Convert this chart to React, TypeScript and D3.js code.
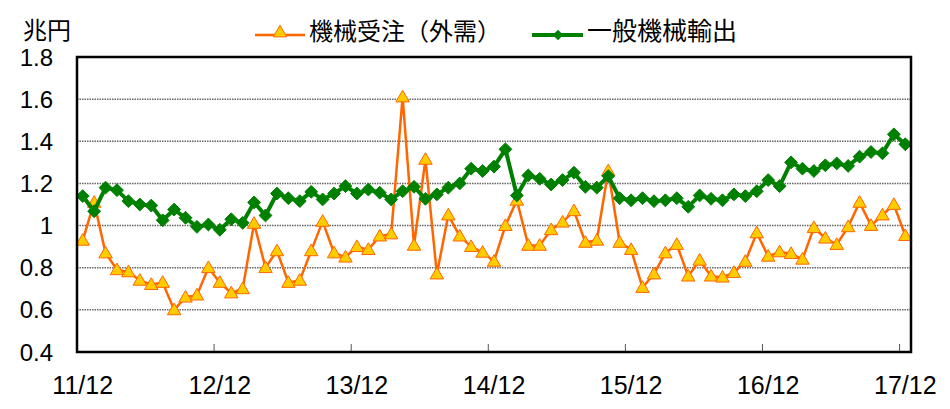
import React, { useRef, useEffect } from "react";
import * as d3 from "d3";

// 11/12 .. 17/12, monthly (73 points)
const xTickLabels = ["11/12", "12/12", "13/12", "14/12", "15/12", "16/12", "17/12"];
const yTickValues = [0.4, 0.6, 0.8, 1, 1.2, 1.4, 1.6, 1.8];

const ordersName = "機械受注（外需）";
const exportsName = "一般機械輸出";

const orders = [
  0.93, 1.11, 0.87, 0.79, 0.78, 0.74, 0.72, 0.73, 0.6, 0.66, 0.67, 0.8,
  0.73, 0.68, 0.7, 1.01, 0.8, 0.88, 0.73, 0.74, 0.88, 1.02, 0.87, 0.85,
  0.9, 0.886, 0.95, 0.96, 1.61, 0.906, 1.314, 0.77, 1.05, 0.95, 0.9, 0.873,
  0.83, 1.0, 1.12, 0.906, 0.906, 0.98, 1.016, 1.07, 0.92, 0.93, 1.26, 0.92,
  0.886, 0.706, 0.77, 0.87, 0.91, 0.76, 0.835, 0.76, 0.755, 0.777, 0.83, 0.965,
  0.854, 0.875, 0.867, 0.84, 0.99, 0.94, 0.91, 0.994, 1.11, 1.0, 1.05, 1.1,
  0.952,
];

const exportsData = [
  1.14, 1.068, 1.18, 1.168, 1.116, 1.1, 1.095, 1.025, 1.076, 1.037, 0.994, 1.005,
  0.98, 1.03, 1.013, 1.11, 1.048, 1.152, 1.13, 1.116, 1.16, 1.124, 1.152, 1.187,
  1.152, 1.171, 1.156, 1.124, 1.163, 1.184, 1.127, 1.148, 1.18, 1.2, 1.27, 1.259,
  1.28, 1.362, 1.143, 1.238, 1.222, 1.195, 1.216, 1.251, 1.184, 1.18, 1.235, 1.13,
  1.12, 1.13, 1.116, 1.12, 1.13, 1.089, 1.143, 1.127, 1.12, 1.148, 1.14, 1.163,
  1.216, 1.187, 1.3, 1.27, 1.259, 1.286, 1.295, 1.283, 1.327, 1.349, 1.343, 1.433,
  1.386,
];

const width = 950;
const height = 409;
const left = 77;
const right = 911;
const top = 57;
const bottom = 352;

const numFont = "'Liberation Sans', Arial, sans-serif";
const cjkFont = "'Noto Sans CJK JP', sans-serif";

const App = () => {
  const chartRef = useRef<SVGSVGElement | null>(null);

  useEffect(() => {
    const svg = d3.select(chartRef.current);
    svg.selectAll("*").remove();

    const n = orders.length;
    const xBand = d3
      .scaleBand<number>()
      .domain(d3.range(n))
      .range([left, right])
      .paddingInner(0)
      .paddingOuter(0);
    const xPos = (i: number) => (xBand(i) as number) + xBand.bandwidth() / 2;

    const yScale = d3.scaleLinear().domain([0.4, 1.8]).range([bottom, top]);

    // gridlines
    svg
      .append("g")
      .selectAll("line")
      .data(yTickValues.slice(1, -1))
      .enter()
      .append("line")
      .attr("x1", left)
      .attr("x2", right)
      .attr("y1", (d) => yScale(d))
      .attr("y2", (d) => yScale(d))
      .attr("stroke", "#666")
      .attr("stroke-width", 1.5)
      .attr("stroke-dasharray", "1.5 1");

    // y labels
    svg
      .append("g")
      .selectAll("text")
      .data(yTickValues)
      .enter()
      .append("text")
      .attr("x", 53)
      .attr("y", (d) => yScale(d) + 8.5)
      .attr("text-anchor", "end")
      .style("font-family", numFont)
      .style("font-size", "24px")
      .text((d) => String(d));

    // x ticks between categories, inside the plot
    const tickIdx = d3.range(1, xTickLabels.length).map((k) => k * 12);
    svg
      .append("g")
      .selectAll("line")
      .data(tickIdx)
      .enter()
      .append("line")
      .attr("x1", (d) => xBand(d) as number)
      .attr("x2", (d) => xBand(d) as number)
      .attr("y1", bottom)
      .attr("y2", bottom - 8)
      .attr("stroke", "#555")
      .attr("stroke-width", 1);

    // x labels
    svg
      .append("g")
      .selectAll("text")
      .data(xTickLabels)
      .enter()
      .append("text")
      .attr("x", (d, k) => xPos(k * 12))
      .attr("y", 394)
      .attr("text-anchor", "middle")
      .style("font-family", numFont)
      .style("font-size", "25px")
      .text((d) => d);

    const line = d3
      .line<number>()
      .x((d, i) => xPos(i))
      .y((d) => yScale(d));

    // orders series
    svg
      .append("path")
      .datum(orders)
      .attr("d", line)
      .attr("fill", "none")
      .attr("stroke", "#ff6600")
      .attr("stroke-width", 2.5)
      .attr("stroke-linejoin", "round");

    const tri = d3.symbol().type(d3.symbolTriangle).size(78);
    svg
      .append("g")
      .selectAll("path")
      .data(orders)
      .enter()
      .append("path")
      .attr("d", tri)
      .attr("transform", (d, i) => `translate(${xPos(i)},${yScale(d) + 1})`)
      .attr("fill", "#ffcc00")
      .attr("stroke", "#ff6600")
      .attr("stroke-width", 1);

    // exports series
    svg
      .append("path")
      .datum(exportsData)
      .attr("d", line)
      .attr("fill", "none")
      .attr("stroke", "#008000")
      .attr("stroke-width", 4)
      .attr("stroke-linejoin", "round");

    const dia = d3.symbol().type(d3.symbolDiamond2).size(105);
    svg
      .append("g")
      .selectAll("path")
      .data(exportsData)
      .enter()
      .append("path")
      .attr("d", dia)
      .attr("transform", (d, i) => `translate(${xPos(i)},${yScale(d)})`)
      .attr("fill", "#008000")
      .attr("stroke", "#008000")
      .attr("stroke-width", 1);

    // plot frame
    svg
      .append("rect")
      .attr("x", left)
      .attr("y", top)
      .attr("width", right - left)
      .attr("height", bottom - top)
      .attr("fill", "none")
      .attr("stroke", "#000")
      .attr("stroke-width", 2.5);

    // unit
    svg
      .append("text")
      .attr("x", 47)
      .attr("y", 28)
      .attr("text-anchor", "middle")
      .attr("dominant-baseline", "central")
      .style("font-family", cjkFont)
      .style("font-size", "24px")
      .text("兆円");

    // legend
    const lg = svg.append("g");
    lg.append("line")
      .attr("x1", 255)
      .attr("x2", 305)
      .attr("y1", 35)
      .attr("y2", 35)
      .attr("stroke", "#ff6600")
      .attr("stroke-width", 2.5);
    lg.append("path")
      .attr("d", tri)
      .attr("transform", "translate(280,33)")
      .attr("fill", "#ffcc00")
      .attr("stroke", "#ff6600")
      .attr("stroke-width", 1);
    lg.append("text")
      .attr("x", 309)
      .attr("y", 29)
      .attr("dominant-baseline", "central")
      .style("font-family", cjkFont)
      .style("font-size", "24px")
      .text(ordersName);

    lg.append("line")
      .attr("x1", 532)
      .attr("x2", 583)
      .attr("y1", 35)
      .attr("y2", 35)
      .attr("stroke", "#008000")
      .attr("stroke-width", 4);
    lg.append("path")
      .attr("d", d3.symbol().type(d3.symbolDiamond2).size(70))
      .attr("transform", "translate(558,35)")
      .attr("fill", "#008000");
    lg.append("text")
      .attr("x", 587)
      .attr("y", 29)
      .attr("dominant-baseline", "central")
      .style("font-family", cjkFont)
      .style("font-size", "25px")
      .text(exportsName);
  }, []);

  return (
    <svg
      ref={chartRef}
      width={width}
      height={height}
      style={{ position: "absolute", left: 0, top: 0, background: "#fff" }}
    />
  );
};

export default App;
